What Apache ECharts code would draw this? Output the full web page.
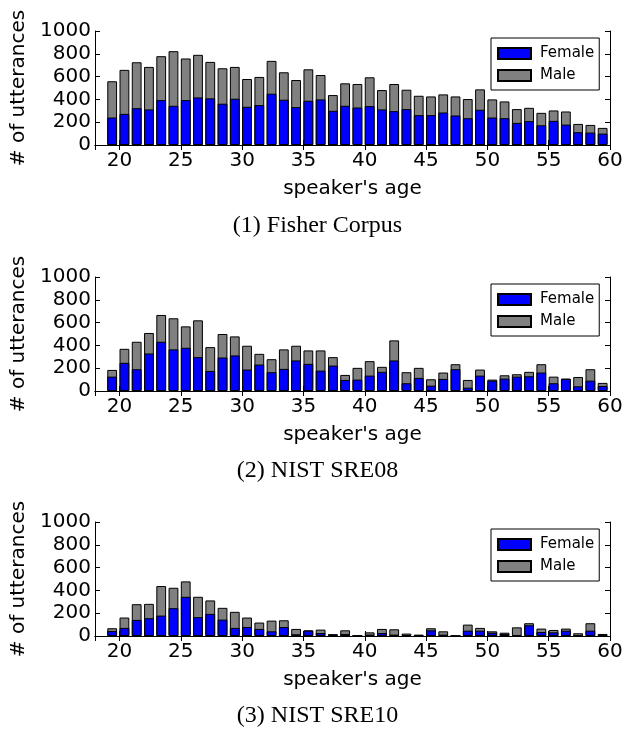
<!DOCTYPE html>
<html>
<head>
<meta charset="utf-8">
<script src="https://cdn.jsdelivr.net/npm/echarts@6/dist/echarts.min.js"></script>
<style>
  html, body { margin: 0; padding: 0; background: #fff; }
  #main { width: 635px; height: 736px; }
</style>
</head>
<body>
<div id="main"></div>
<script>
// speaker age histograms (3 corpora)
var ages = [19,20,21,22,23,24,25,26,27,28,29,30,31,32,33,34,35,36,37,38,39,
            40,41,42,43,44,45,46,47,48,49,50,51,52,53,54,55,56,57,58,59];

var fisherFemale = [241,273,323,312,394,344,394,417,409,362,406,335,350,450,397,332,388,400,300,344,329,
                    341,312,297,315,262,262,285,259,235,309,241,235,194,209,173,212,179,112,109,100];
var fisherMale   = [318,386,403,373,385,479,365,374,320,311,279,244,247,288,241,238,276,214,138,197,206,
                    253,170,238,170,170,164,159,167,168,179,159,147,121,117,109,91,115,73,67,50];

var sre08Female = [126,247,191,329,432,365,379,297,176,294,312,188,232,165,194,268,238,179,223,97,100,
                   135,168,268,68,115,47,106,191,29,135,91,109,126,129,162,68,106,41,91,44];
var sre08Male   = [59,123,241,180,235,273,188,323,209,206,167,209,94,114,171,129,118,177,74,44,103,
                   127,44,176,97,88,56,56,44,68,53,9,29,21,39,73,58,3,82,100,27];

var sre10Female = [44,71,141,156,179,244,344,165,194,144,71,79,62,41,79,15,47,26,15,18,2,
                   12,26,12,9,6,50,12,0,47,47,29,18,6,94,35,32,47,3,47,12];
var sre10Male   = [24,91,138,126,259,179,135,179,118,103,141,83,56,94,59,47,3,30,0,32,0,
                   20,36,47,12,6,18,29,0,53,24,12,11,70,18,30,21,18,21,65,6];

var captions = ['(1) Fisher Corpus', '(2) NIST SRE08', '(3) NIST SRE10'];
var panels = [
  { female: fisherFemale, male: fisherMale },
  { female: sre08Female, male: sre08Male },
  { female: sre10Female, male: sre10Male }
];

var chart = echarts.init(document.getElementById('main'));

var font = 'DejaVu Sans';
var tops = [31, 277, 522];
var captionTops = [214, 459, 704];
var plotH = 114;
var plotL = 95, plotR = 25;

// bars are left aligned on the age (matplotlib style), width 0.8
function femalePts(p) {
  return p.female.map(function (v, i) { return [ages[i] + 0.4, v]; });
}
// male sits on top of female: draw the full column in gray, female over it
function malePts(p) {
  return p.male.map(function (v, i) { return [ages[i] + 0.4, p.female[i] + v]; });
}

var grid = [], xAxis = [], yAxis = [], series = [], legend = [], graphic = [];

panels.forEach(function (p, k) {
  grid.push({ left: plotL, right: plotR, top: tops[k], height: plotH });

  // bottom x axis
  xAxis.push({
    type: 'value', gridIndex: k, min: 18, max: 60, splitNumber: 8,
    position: 'bottom',
    name: "speaker's age", nameLocation: 'middle', nameGap: 34,
    nameTextStyle: { fontFamily: font, fontSize: 20, color: '#000' },
    axisLine: { lineStyle: { color: '#000', width: 1 } },
    axisTick: { inside: true, length: 5, lineStyle: { color: '#000' } },
    axisLabel: {
      fontFamily: font, fontSize: 20, color: '#000', margin: 6,
      formatter: function (v) { return v % 5 === 0 ? String(v) : ''; }
    },
    splitLine: { show: false }
  });
  // top x axis (ticks only)
  xAxis.push({
    type: 'value', gridIndex: k, min: 18, max: 60, splitNumber: 8,
    position: 'top',
    axisLine: { lineStyle: { color: '#000', width: 1 } },
    axisTick: { inside: true, length: 5, lineStyle: { color: '#000' } },
    axisLabel: { show: false },
    splitLine: { show: false }
  });

  yAxis.push({
    type: 'value', gridIndex: k, min: 0, max: 1000, interval: 200,
    position: 'left',
    name: '# of utterances', nameLocation: 'middle', nameGap: 51,
    nameTextStyle: { fontFamily: font, fontSize: 20, color: '#000' },
    axisLine: { show: true, lineStyle: { color: '#000', width: 1 } },
    axisTick: { show: true, inside: true, length: 5, lineStyle: { color: '#000' } },
    axisLabel: {
      fontFamily: font, fontSize: 20, color: '#000', margin: 4,
      formatter: function (v) { return String(v); }
    },
    splitLine: { show: false }
  });
  yAxis.push({
    type: 'value', gridIndex: k, min: 0, max: 1000, interval: 200,
    position: 'right',
    axisLine: { show: true, lineStyle: { color: '#000', width: 1 } },
    axisTick: { show: true, inside: true, length: 5, lineStyle: { color: '#000' } },
    axisLabel: { show: false },
    splitLine: { show: false }
  });

  series.push({
    name: 'Male', type: 'bar',
    xAxisIndex: k * 2, yAxisIndex: k * 2,
    barWidth: 9.8, barGap: '-100%',
    itemStyle: { color: '#808080', borderColor: '#000', borderWidth: 1 },
    data: malePts(p)
  });
  series.push({
    name: 'Female', type: 'bar',
    xAxisIndex: k * 2, yAxisIndex: k * 2,
    barWidth: 9.8, barGap: '-100%',
    itemStyle: { color: '#0000ff', borderColor: '#000', borderWidth: 1 },
    data: femalePts(p)
  });

  legend.push({
    data: ['Female', 'Male'],
    orient: 'vertical',
    left: 491, top: tops[k] + 7,
    padding: [8, 5, 7, 6],
    itemWidth: 33, itemHeight: 11, itemGap: 7,
    icon: 'rect',
    backgroundColor: '#fff',
    borderColor: '#000', borderWidth: 1,
    textStyle: { fontFamily: font, fontSize: 15, color: '#000', padding: [0, 0, 0, 4] }
  });

  graphic.push({
    type: 'text', left: 'center', top: captionTops[k],
    style: { text: captions[k], font: '24px "Liberation Serif"', fill: '#000' }
  });
});

option = {
  animation: false,
  grid: grid,
  xAxis: xAxis,
  yAxis: yAxis,
  legend: legend,
  graphic: graphic,
  series: series
};

chart.setOption(option);
</script>
</body>
</html>
